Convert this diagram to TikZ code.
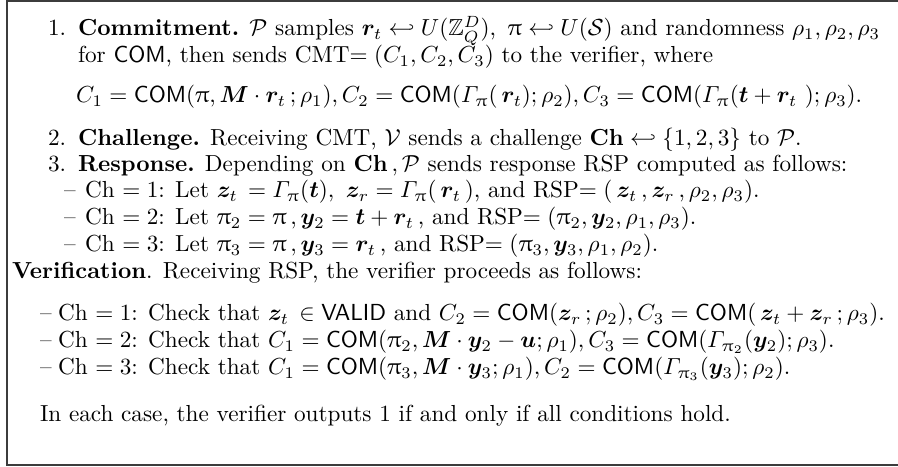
\documentclass[tikz,border=0pt]{standalone}
\usepackage{amsmath}
\usepackage{amssymb}
\usepackage{bm}
\usepackage{upgreek}
\usepackage{tikz}
\usepackage{xcolor}
\definecolor{cFrame}{RGB}{60,60,60}
\newcommand{\cmt}{\mathsf{COM}}
\newcommand{\rt}{\boldsymbol{r}_{t}}
\tikzset{
	ln/.style   ={anchor=base west, inner sep=0pt, outer sep=0pt},
	frame/.style={line width=0.65pt, cFrame},
}
\begin{document}
\begin{tikzpicture}[x=0.431pt, y=-0.431pt, every node/.style={font=\normalsize}]
			\useasboundingbox (0,0) rectangle (898,467);
			% frame (open on the right)
			\coordinate (tl) at (7,1);
			\coordinate (bl) at (7,465);
			\draw[frame] (898,1) -- (tl) -- (bl) -- (898,465);
			% commitment
			\node[ln] (l1) at (48,36) {1.};
			\node[ln] (commit) at (78,36) {\textbf{Commitment.} $\mathcal{P}$ samples $\rt \hookleftarrow U(\mathbb{Z}_Q^D)$, \,$\uppi\hookleftarrow U(\mathcal{S})$ and randomness $\rho_1,\rho_2,\rho_3$};
			\node[ln] (commit2) at (78,63) {for $\cmt$, then sends CMT$=(C_1,C_2,C_3)$ to the verifier, where};
			\node[ln] (eqc) at (76,103) {$C_1=\cmt(\uppi,\boldsymbol{M}\cdot\rt\,;\rho_1),C_2=\cmt(\varGamma_{\uppi}(\,\rt);\rho_2),C_3=\cmt(\varGamma_{\uppi}(\boldsymbol{t}+\rt\,\,);\rho_3).$};
			% challenge
			\node[ln] (l2) at (48,146) {2.};
			\node[ln] (chal) at (78,146) {\textbf{Challenge.} Receiving CMT, $\mathcal{V}$ sends a challenge $\mathbf{Ch}\hookleftarrow\{1,2,3\}$ to $\mathcal{P}$.};
			% response
			\node[ln] (l3) at (48,172) {3.};
			\node[ln] (resp) at (78,172) {\textbf{Response.} Depending on $\mathbf{Ch}\,,\mathcal{P}$ sends response RSP computed as follows:};
			\node[ln] (d1) at (64,198) {--};
			\node[ln] (r1) at (85,198) {Ch $=1$: Let $\boldsymbol{z}_t\,=\varGamma_{\uppi}(\boldsymbol{t}),\ \boldsymbol{z}_r=\varGamma_{\uppi}(\,\rt\,)$, and RSP$=(\,\boldsymbol{z}_t\,,\boldsymbol{z}_r\,,\rho_2,\rho_3)$.};
			\node[ln] (d2) at (64,225) {--};
			\node[ln] (r2) at (85,225) {Ch $=2$: Let $\uppi_2=\uppi\,,\boldsymbol{y}_2=\boldsymbol{t}+\rt\,$, and RSP$=(\uppi_2,\boldsymbol{y}_2,\rho_1,\rho_3)$.};
			\node[ln] (d3) at (64,252) {--};
			\node[ln] (r3) at (85,252) {Ch $=3$: Let $\uppi_3=\uppi\,,\boldsymbol{y}_3=\rt\,$, and RSP$=(\uppi_3,\boldsymbol{y}_3,\rho_1,\rho_2)$.};
			% verification
			\node[ln] (verif) at (12,279) {\textbf{Verification}. Receiving RSP, the verifier proceeds as follows:};
			\node[ln] (e1) at (40,321) {--};
			\node[ln] (v1) at (58,321) {Ch $=1$: Check that $\boldsymbol{z}_t\,\in\mathsf{VALID}$ and $C_2=\cmt(\boldsymbol{z}_r\,;\rho_2),C_3=\cmt(\,\boldsymbol{z}_t+\boldsymbol{z}_r\,;\rho_3)$.};
			\node[ln] (e2) at (40,348) {--};
			\node[ln] (v2) at (58,348) {Ch $=2$: Check that $C_1=\cmt(\uppi_2,\boldsymbol{M}\cdot\boldsymbol{y}_2-\boldsymbol{u};\rho_1),C_3=\cmt(\varGamma_{\uppi_2}(\boldsymbol{y}_2);\rho_3)$.};
			\node[ln] (e3) at (40,375) {--};
			\node[ln] (v3) at (58,375) {Ch $=3$: Check that $C_1=\cmt(\uppi_3,\boldsymbol{M}\cdot\boldsymbol{y}_3;\rho_1),C_2=\cmt(\varGamma_{\uppi_3}(\boldsymbol{y}_3);\rho_2)$.};
			\node[ln] (outp) at (40,422) {In each case, the verifier outputs 1 if and only if all conditions hold.};
		\end{tikzpicture}
\end{document}
